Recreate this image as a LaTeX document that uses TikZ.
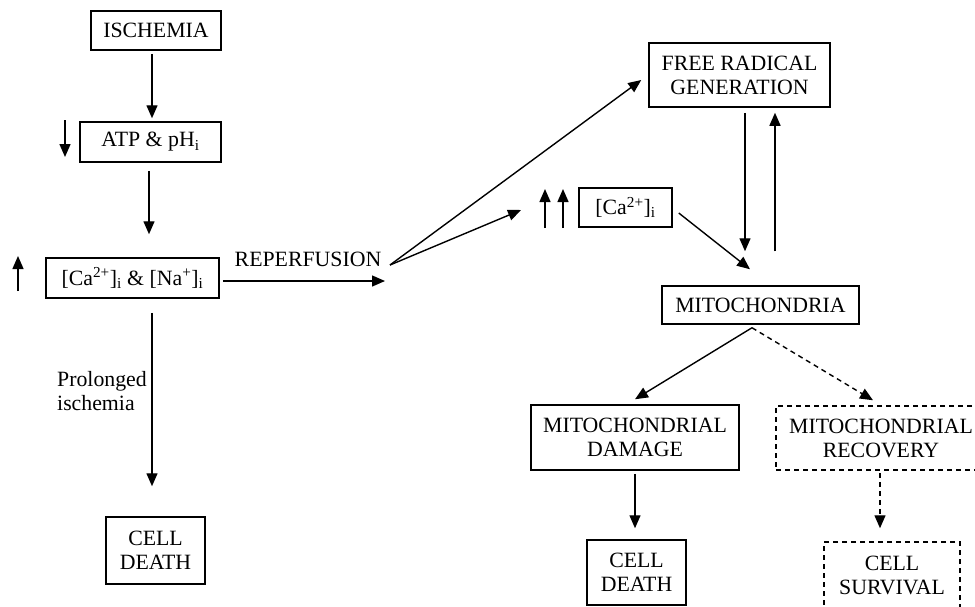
\documentclass[tikz,border=0pt]{standalone}
\usepackage{fontspec}
\setmainfont{Liberation Serif}
\usetikzlibrary{arrows.meta}
\begin{document}
\begin{tikzpicture}[x=1pt,y=-1pt,
  every node/.style={font=\fontsize{21.8}{24}\selectfont},
  box/.style={draw, line width=1.5pt, inner sep=0pt, align=center},
  dbox/.style={box, dash pattern=on 5pt off 4pt},
  arr/.style={line width=1.4pt, -{Triangle[length=13pt,width=11pt]}},
  darr/.style={arr, dash pattern=on 5pt off 4pt}]
\useasboundingbox (0,0) rectangle (975,606);
% left column
\node[box, minimum width=130pt, minimum height=39pt] (isch) at (156,30.5) {ISCHEMIA};
\node[box, minimum width=141pt, minimum height=40pt] (atp) at (150.5,142) {ATP \& pH\textsubscript{i}};
\node[box, minimum width=173pt, minimum height=40pt] (cana) at (132.5,278) {[Ca\textsuperscript{2+}]\textsubscript{i} \& [Na\textsuperscript{+}]\textsubscript{i}};
\node[box, minimum width=99pt, minimum height=67pt] (cd1) at (155.5,550.5) {CELL\\DEATH};
\node[anchor=west, align=left, inner sep=0pt] (prol) at (57,391) {Prolonged\\ischemia};
\node (rep) at (308,259) {REPERFUSION};
% right part
\node[box, minimum width=181pt, minimum height=64pt] (fr) at (739.5,75) {FREE RADICAL\\GENERATION};
\node[box, minimum width=93pt, minimum height=39pt] (ca) at (625.5,207.5) {[Ca\textsuperscript{2+}]\textsubscript{i}};
\node[box, minimum width=197pt, minimum height=38pt] (mito) at (760.5,305) {MITOCHONDRIA};
\node[box, minimum width=208pt, minimum height=65pt] (md) at (635,437.5) {MITOCHONDRIAL\\DAMAGE};
\node[dbox, minimum width=210pt, minimum height=64pt] (mr) at (881,438) {MITOCHONDRIAL\\RECOVERY};
\node[box, minimum width=99pt, minimum height=65pt] (cd2) at (636.5,572.5) {CELL\\DEATH};
\node[dbox, minimum width=136pt, minimum height=66pt] (cs) at (892,575) {CELL\\SURVIVAL};
\coordinate (hub) at (390,265);
\coordinate (repend) at (385,281);
\coordinate (caend) at (521,210);
% left connectors
\draw[arr] ([xshift=-4pt,yshift=-3pt]isch.south) -- ([xshift=1.5pt,yshift=3pt]atp.north);
\draw[arr] ([xshift=-1.5pt,yshift=-8pt]atp.south) -- ([xshift=16.5pt,yshift=23pt]cana.north);
\draw[arr] ([xshift=19.5pt,yshift=-14pt]cana.south) -- ([xshift=-3.5pt,yshift=30pt]cd1.north);
\draw[arr] ([xshift=3pt,yshift=-3pt]cana.east) -- (repend);
% indicator arrows
\draw[arr] (65,120) -- (65,157);
\draw[arr] (18,291) -- (18,256);
\draw[arr] (545,228) -- (545,189);
\draw[arr] (563,228) -- (563,189);
% right connectors
\draw[arr] (hub) -- ([xshift=-7pt,yshift=-5pt]fr.west);
\draw[arr] (hub) -- (caend);
\draw[arr] ([xshift=6pt,yshift=-5.5pt]ca.east) -- ([xshift=-10.5pt,yshift=16pt]mito.north);
\draw[arr] ([xshift=5.5pt,yshift=-5pt]fr.south) -- ([xshift=-15.5pt,yshift=34pt]mito.north);
\draw[arr] ([xshift=14.5pt,yshift=34pt]mito.north) -- ([xshift=35.5pt,yshift=-5pt]fr.south);
\draw[arr] ([xshift=-8.5pt,yshift=-3pt]mito.south) -- ([yshift=5pt]md.north);
\draw[darr] ([xshift=-8.5pt,yshift=-3pt]mito.south) -- ([xshift=-8pt,yshift=5pt]mr.north);
\draw[arr] ([yshift=-3pt]md.south) -- ([xshift=-1.5pt,yshift=11pt]cd2.north);
\draw[darr] ([xshift=-1pt,yshift=-2pt]mr.south) -- ([xshift=-12pt,yshift=13pt]cs.north);
\end{tikzpicture}
\end{document}
